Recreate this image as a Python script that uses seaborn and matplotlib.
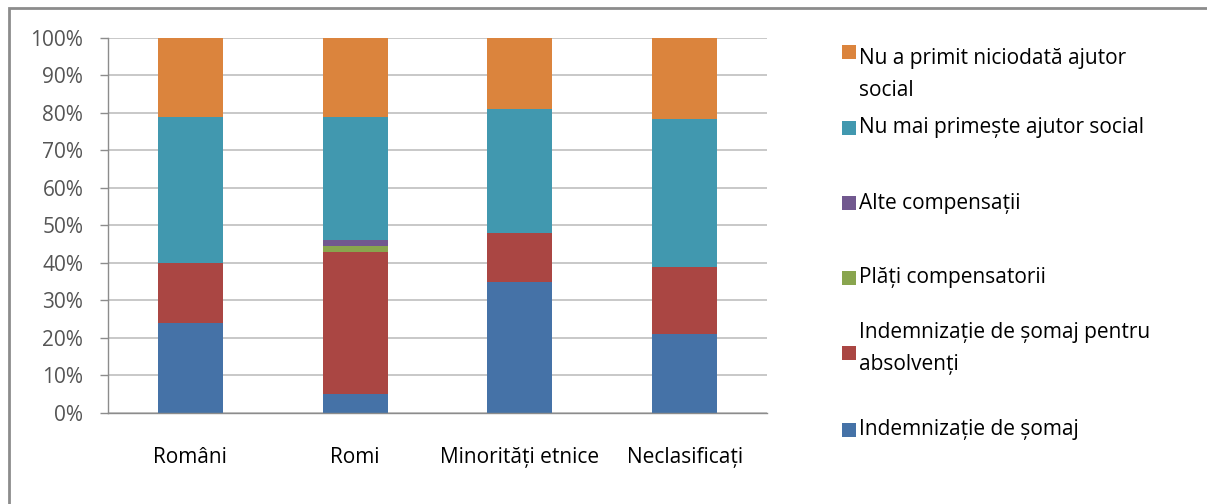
import matplotlib
matplotlib.use("Agg")
import matplotlib.pyplot as plt
import seaborn as sns
import numpy as np
import pandas as pd
from matplotlib.patches import Rectangle
from matplotlib.ticker import PercentFormatter

categories = ["Români", "Romi", "Minorități etnice", "Neclasificați"]
series_names = [
    "Indemnizație de șomaj",
    "Indemnizație de șomaj pentru absolvenți",
    "Plăți compensatorii",
    "Alte compensații",
    "Nu mai primește ajutor social",
    "Nu a primit niciodată ajutor social",
]
indemnizatie = [24, 5, 35, 21]
absolventi = [16, 38, 13, 18]
plati = [0, 1.5, 0, 0]
alte = [0, 1.5, 0, 0]
nu_mai = [39, 33, 33, 39.5]
niciodata = [21, 21, 19, 21.5]

legend_labels = [
    "Nu a primit niciodată ajutor\nsocial",
    "Nu mai primește ajutor social",
    "Alte compensații",
    "Plăți compensatorii",
    "Indemnizație de șomaj pentru\nabsolvenți",
    "Indemnizație de șomaj",
]

colors = ["#4572A7", "#AA4643", "#89A54E", "#71588F", "#4198AF", "#DB843D"]

sns.set_style("white")
plt.rcParams["font.family"] = ["Open Sans", "DejaVu Sans"]

W, H = 1207, 504
fig = plt.figure(figsize=(W / 100, H / 100), dpi=100)
ax = fig.add_axes([108 / W, 1 - 412.7 / H, (767 - 108) / W, (412.7 - 38) / H])

values = [indemnizatie, absolventi, plati, alte, nu_mai, niciodata]
cum = np.cumsum(np.array(values, dtype=float), axis=0)

# draw cumulative bars from the top series down so that lower segments overlay
for i in range(len(values) - 1, -1, -1):
    df = pd.DataFrame({"cat": categories, "val": cum[i]})
    sns.barplot(data=df, x="cat", y="val", color=colors[i], width=0.395,
                saturation=1, linewidth=0, edgecolor="none", ax=ax, zorder=3)

ax.set_ylim(0, 100)
ax.set_xlim(-0.5, 3.5)
ax.set_yticks(np.arange(0, 101, 10))
ax.yaxis.set_major_formatter(PercentFormatter(decimals=0))
ax.yaxis.grid(True, color="#BFBFBF", linewidth=1.2, zorder=0)
ax.set_axisbelow(True)
ax.set_xlabel("")
ax.set_ylabel("")
for s in ["top", "right"]:
    ax.spines[s].set_visible(False)
for s in ["left", "bottom"]:
    ax.spines[s].set_color("#8C8C8C")
    ax.spines[s].set_linewidth(1.0)
    ax.spines[s].set_zorder(4)

ax.set_xticks(np.arange(4))
ax.set_xticklabels(categories)
ax.set_xticks(np.arange(-0.5, 4, 1), minor=True)
ax.tick_params(axis="x", which="major", length=0, pad=25, labelsize=15, labelcolor="#000000")
ax.tick_params(axis="x", which="minor", length=5.8, color="#8C8C8C", width=1)
ax.tick_params(axis="y", length=5.8, color="#8C8C8C", width=1, pad=12, labelsize=15,
               labelcolor="#555555", left=True)

# legend drawn manually to mimic the reference layout
marker_y = [52, 128, 203, 278, 353, 430]
text_y = [74.5, 128, 203, 278, 348.5, 430]
for lab, my, ty, col in zip(legend_labels, marker_y, text_y, colors[::-1]):
    fig.patches.append(Rectangle((842 / W, 1 - (my + 7) / H), 14 / W, 14 / H,
                                 transform=fig.transFigure, facecolor=col,
                                 edgecolor="none"))
    fig.text(859 / W, 1 - ty / H, lab, ha="left", va="center",
             fontsize=15, color="#000000", linespacing=1.72)

# outer frame (top and left edges visible in the reference)
fig.patches.append(Rectangle((9 / W, -0.1), 1.2, 1 - 8 / H + 0.1,
                             transform=fig.transFigure, facecolor="none",
                             edgecolor="#8C8C8C", linewidth=2))

fig.savefig("out.png", dpi=100)
